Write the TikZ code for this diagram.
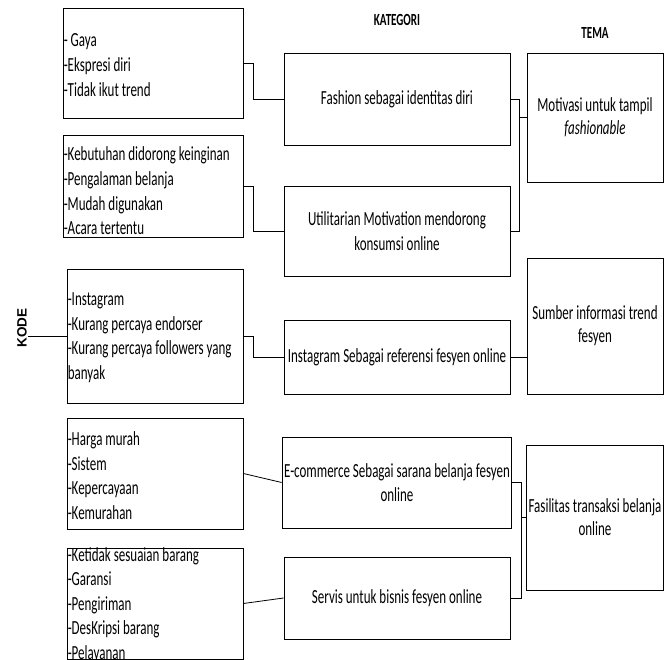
\documentclass[tikz,border=0pt]{standalone}
\usepackage{fontspec}
\setmainfont{Carlito}[FakeStretch=0.65]
\newfontfamily\kodefont{Liberation Sans}
\usetikzlibrary{positioning}
\tikzset{
  wire/.style     = {line width=0.8pt},
  kodebox/.style  = {draw, line width=0.9pt, inner sep=0pt, minimum width=176pt},
  kodetext/.style = {anchor=west, align=left, inner sep=1pt,
                     font=\fontsize{20}{24.6}\selectfont},
  katbox/.style   = {draw, line width=0.9pt, inner sep=2pt, minimum width=226pt,
                     align=center, font=\fontsize{20}{24.6}\selectfont},
  temabox/.style  = {draw, line width=0.9pt, inner sep=2pt, minimum width=136pt,
                     align=center, font=\fontsize{20}{23}\selectfont},
  head/.style     = {font=\fontsize{17}{19}\selectfont\bfseries},
}

\begin{document}
\begin{tikzpicture}[x=1pt,y=-1pt]
  \useasboundingbox (0,0) rectangle (670,660);

  % ---- headers -----------------------------------------------------------
  \node[head] (hkat) at (397,20) {KATEGORI};
  \node[head] (htema) at (595,33) {TEMA};
  \node[rotate=90,inner sep=1pt,font=\kodefont\fontsize{13.5}{15}\selectfont\bfseries]
       (kode) at (22,328) {KODE};

  % ---- kode --------------------------------------------------------------
  \node[kodebox,minimum width=180pt,minimum height=110pt] (k1) at (153,63) {};
  \node[kodetext] (k1t) at ([yshift=-2pt]k1.west)
      {- Gaya\\-Ekspresi diri\\-Tidak ikut trend};
  \node[kodebox,minimum width=180pt,minimum height=102pt] (k2) at (153,186) {};
  \node[kodetext] (k2t) at ([yshift=-5pt]k2.west)
      {-Kebutuhan didorong keinginan\\-Pengalaman belanja\\-Mudah digunakan\\-Acara tertentu};
  \node[kodebox,minimum height=134pt] (k3) at (155,336) {};
  \node[kodetext] (k3t) at ([yshift=-1.5pt]k3.west)
      {-Instagram\\-Kurang percaya endorser\\-Kurang percaya followers yang\\banyak};
  \node[kodebox,minimum height=111pt] (k4) at (155,473.5) {};
  \node[kodetext] (k4t) at ([yshift=-2pt]k4.west)
      {-Harga murah\\-Sistem\\-Kepercayaan\\-Kemurahan};
  \node[kodebox,minimum height=111pt] (k5) at (155,603.5) {};
  \node[kodetext] (k5t) at ([yshift=-1.5pt]k5.west)
      {-Ketidak sesuaian barang\\-Garansi\\-Pengiriman\\-DesKripsi barang\\-Pelayanan};

  % ---- kategori ----------------------------------------------------------
  \node[katbox,minimum height=92pt] (c1) at (397,99) {Fashion sebagai identitas diri};
  \node[katbox,minimum height=90pt] (c2) at (397,231)
      {Utilitarian Motivation mendorong\\konsumsi online};
  \node[katbox,minimum height=74pt] (c3) at (397,357)
      {Instagram Sebagai referensi fesyen online};
  \node[katbox,minimum height=91pt] (c4) at (397,482.5)
      {E-commerce Sebagai sarana belanja fesyen\\online};
  \node[katbox,minimum height=82pt] (c5) at (397,598)
      {Servis untuk bisnis fesyen online};

  % ---- tema --------------------------------------------------------------
  \node[temabox,minimum height=129pt] (t1) at (595,117.5)
      {Motivasi untuk tampil\\\textit{fashionable}};
  \node[temabox,minimum height=136pt] (t2) at (595,326)
      {Sumber informasi trend\\fesyen};
  \node[temabox,minimum height=145pt] (t3) at (595,517.5)
      {Fasilitas transaksi belanja\\online};

  % ---- connectors --------------------------------------------------------
  \draw[wire] (kode.south |- k3.west) -- (k3.west);
  \draw[wire] (k1.east) -- ++(10,0) |- (c1.west);
  \draw[wire] (k2.east) -- ++(10,0) |- (c2.west);
  \draw[wire] (k3.east) -- ++(10,0) |- (c3.west);
  \draw[wire] (k4.east) -- (c4.west);
  \draw[wire] (k5.east) -- (c5.west);

  \draw[wire] (c1.east) -- ++(9,0) coordinate (s1) |- (c2.east);
  \draw[wire] (t1.west) -- (t1.west -| s1);
  \draw[wire] (c3.east) -- (c3.east -| t2.west);
  \draw[wire] (c4.east) -- ++(9,0) coordinate (s3) |- (c5.east);
  \draw[wire] (t3.west) -- (t3.west -| s3);
\end{tikzpicture}
\end{document}
